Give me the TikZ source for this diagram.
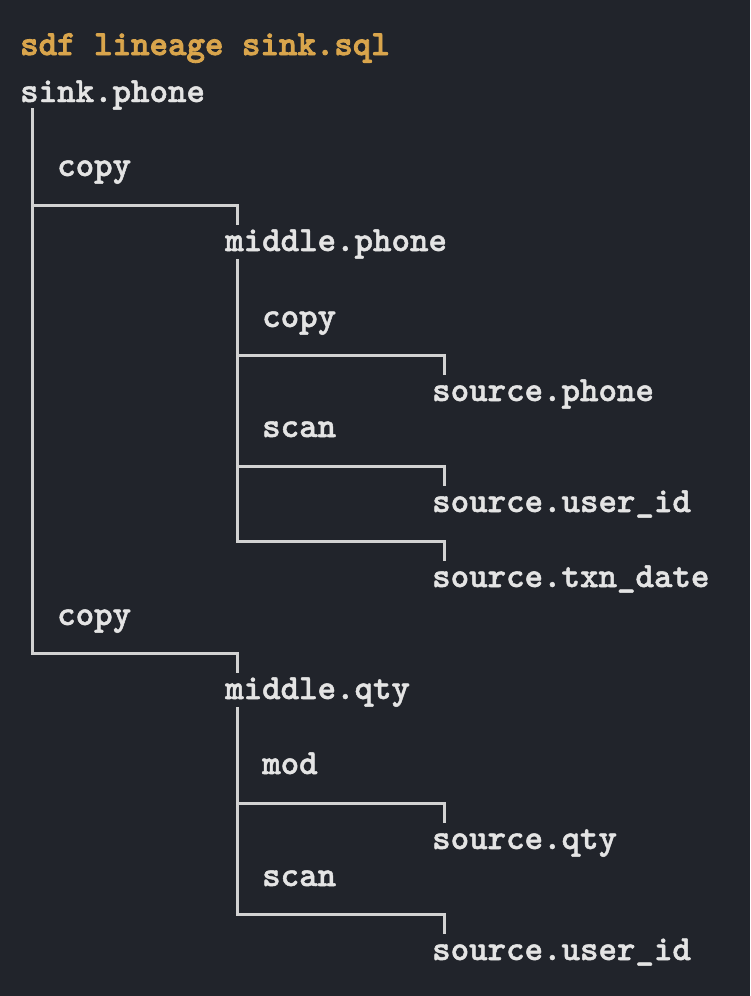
\documentclass[tikz,border=0pt]{standalone}
\usepackage{fontspec}
\setmonofont{lmmonolt10-regular.otf}[BoldFont=lmmonolt10-bold.otf,BoldFeatures={FakeBold=1.4}]
\newfontfamily\headfont{lmmonolt10-bold.otf}[FakeBold=2.4]

\definecolor{bgdark}{HTML}{21242B}
\definecolor{txtwhite}{HTML}{E4E4E4}
\definecolor{linegray}{HTML}{D2D2D2}
\definecolor{titleorange}{HTML}{D9A54C}

\tikzset{
  term/.style={anchor=base west, inner sep=0pt, text=txtwhite,
    font=\fontsize{35.2}{35.2}\selectfont\ttfamily\bfseries},
  op/.style={term},
  edge/.style={draw=linegray, line width=3pt, line cap=rect}
}

\begin{document}
\begin{tikzpicture}[x=1pt,y=-1pt]

\fill[bgdark] (0,0) rectangle (750,996);

\node[term, text=titleorange, font=\fontsize{35.2}{35.2}\selectfont\headfont]
  (title) at (20,55) {sdf lineage sink.sql};

% columns
\node[term] (sink) at (20,102) {sink.phone};

\node[term] (midph) at (225,251) {middle.phone};
\node[term] (srcph) at (432,401) {source.phone};
\node[term] (srcuid) at (432,512) {source.user\_id};
\node[term] (srctxn) at (432,587) {source.txn\_date};

\node[term] (midqty) at (225,699) {middle.qty};
\node[term] (srcqty) at (432,849) {source.qty};
\node[term] (srcuidb) at (432,960) {source.user\_id};

% edge labels
\node[op] (cpya) at (57,176) {copy};
\node[op] (cpyb) at (262,327) {copy};
\node[op] (scna) at (262,437) {scan};
\node[op] (cpyc) at (57,625) {copy};
\node[op] (modq) at (262,774) {mod};
\node[op] (scnb) at (262,886) {scan};

% out / in points
\coordinate (sink-out) at ([xshift=12pt,yshift=-7pt]sink.base west);
\coordinate (midph-out) at ([xshift=12pt,yshift=-9pt]midph.base west);
\coordinate (midqty-out) at ([xshift=12pt,yshift=-9pt]midqty.base west);

\foreach \n in {midph,midqty,srcph,srcuid,srctxn,srcqty,srcuidb}
  \coordinate (\n-in) at ([xshift=12pt,yshift=28pt]\n.base west);

% tree
\draw[edge] (sink-out) |- ([yshift=18pt]midph-in) -- (midph-in);
\draw[edge] (sink-out) |- ([yshift=18pt]midqty-in) -- (midqty-in);

\draw[edge] (midph-out) |- ([yshift=18pt]srcph-in) -- (srcph-in);
\draw[edge] (midph-out) |- ([yshift=18pt]srcuid-in) -- (srcuid-in);
\draw[edge] (midph-out) |- ([yshift=18pt]srctxn-in) -- (srctxn-in);

\draw[edge] (midqty-out) |- ([yshift=18pt]srcqty-in) -- (srcqty-in);
\draw[edge] (midqty-out) |- ([yshift=18pt]srcuidb-in) -- (srcuidb-in);

\end{tikzpicture}
\end{document}
